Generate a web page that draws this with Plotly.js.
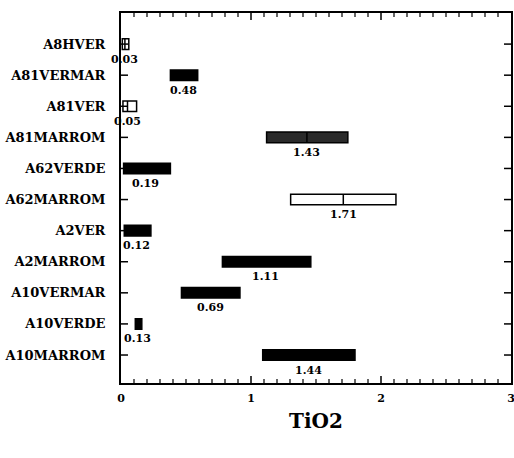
<!DOCTYPE html>
<html>
<head>
<meta charset="utf-8">
<script src="https://cdn.plot.ly/plotly-3.0.1.min.js"></script>
<style>html,body{margin:0;padding:0;background:#fff;}#chart{width:514px;height:458px;}</style>
</head>
<body>
<div id="chart"></div>
<script>
const categories = ['A8HVER','A81VERMAR','A81VER','A81MARROM','A62VERDE','A62MARROM','A2VER','A2MARROM','A10VERMAR','A10VERDE','A10MARROM'];
const q1Values     = [0.01, 0.38, 0.015, 1.12, 0.02, 1.305, 0.025, 0.78, 0.465, 0.11, 1.09];
const medianValues = [0.03, 0.48, 0.05, 1.43, 0.19, 1.71, 0.12, 1.11, 0.69, 0.13, 1.44];
const q3Values     = [0.06, 0.59, 0.12, 1.745, 0.38, 2.115, 0.23, 1.46, 0.915, 0.16, 1.80];
const medianLabels = ['0.03','0.48','0.05','1.43','0.19','1.71','0.12','1.11','0.69','0.13','1.44'];

const whiteBoxes = new Set(['A8HVER','A81VER','A62MARROM']);
const serif = 'DejaVu Serif, Liberation Serif, serif';
const xRange = [0, 3];
const yRange = [10.9, -1];

const W = 514, H = 458;
const margin = {l: 121, r: 3, t: 13, b: 75};
const plotW = W - margin.l - margin.r;
const plotH = H - margin.t - margin.b;

const traces = categories.map((c, i) => ({
  type: 'box',
  orientation: 'h',
  y: [c],
  q1: [q1Values[i]],
  median: [medianValues[i]],
  q3: [q3Values[i]],
  lowerfence: [q1Values[i]],
  upperfence: [q3Values[i]],
  width: 0.34,
  fillcolor: whiteBoxes.has(c) ? '#ffffff' : (c === 'A81MARROM' ? '#2a2a2a' : '#000000'),
  line: {color: '#000000', width: 1.5},
  whiskerwidth: 0,
  boxpoints: false,
  hoverinfo: 'skip',
  showlegend: false
}));

const annotations = categories.map((c, i) => ({
  x: medianValues[i],
  y: c,
  xref: 'x',
  yref: 'y',
  text: '<b>' + medianLabels[i] + '</b>',
  showarrow: false,
  yshift: -15,
  xanchor: 'center',
  yanchor: 'middle',
  font: {family: serif, size: 11, color: '#000'}
}));

// inward frame ticks, placed in axis coordinates (major every 1, minor every 0.1)
const shapes = [];
for (let k = 1; k < 30; k++) {
  const v = k / 10;
  const major = k % 10 === 0;
  const len = (major ? 7 : 4) / plotH;
  const w = major ? 1.5 : 1.2;
  shapes.push({type: 'line', xref: 'x', yref: 'paper', x0: v, x1: v, y0: 0, y1: len, line: {color: 'black', width: w}});
  shapes.push({type: 'line', xref: 'x', yref: 'paper', x0: v, x1: v, y0: 1, y1: 1 - len, line: {color: 'black', width: w}});
}
categories.forEach(c => {
  const len = 7 / plotW;
  shapes.push({type: 'line', xref: 'paper', yref: 'y', x0: 0, x1: len, y0: c, y1: c, line: {color: 'black', width: 1.5}});
  shapes.push({type: 'line', xref: 'paper', yref: 'y', x0: 1, x1: 1 - len, y0: c, y1: c, line: {color: 'black', width: 1.5}});
});

const layout = {
  width: W,
  height: H,
  margin: margin,
  paper_bgcolor: '#fff',
  plot_bgcolor: '#fff',
  boxmode: 'overlay',
  showlegend: false,
  xaxis: {
    range: xRange, dtick: 1, tick0: 0,
    ticks: '',
    showline: true, linecolor: 'black', linewidth: 2, mirror: true,
    showgrid: false, zeroline: false,
    ticklabeloverflow: 'allow',
    ticklabelstandoff: 4,
    tickfont: {family: serif, size: 11, color: '#000', weight: 'bold'},
    title: {text: '<b>TiO2</b>', font: {family: serif, size: 20, color: '#000'}, standoff: 10}
  },
  yaxis: {
    type: 'category', categoryorder: 'array', categoryarray: categories, range: yRange,
    ticks: '',
    showline: true, linecolor: 'black', linewidth: 2, mirror: true,
    showgrid: false, zeroline: false,
    ticklabelstandoff: 11,
    tickfont: {family: serif, size: 13, color: '#000', weight: 'bold'}
  },
  shapes: shapes,
  annotations: annotations
};

Plotly.newPlot('chart', traces, layout, {displayModeBar: false});
</script>
</body>
</html>
